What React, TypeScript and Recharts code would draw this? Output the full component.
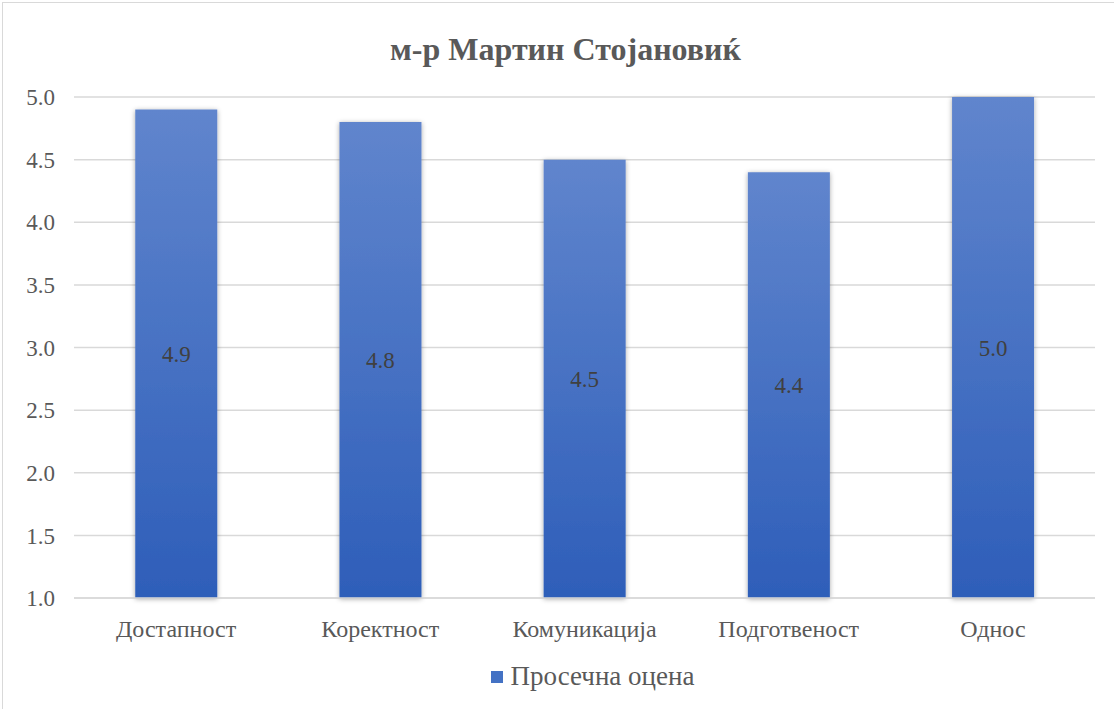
import { Bar, BarChart, CartesianGrid, LabelList, XAxis, YAxis } from "recharts";

const categories = ["Достапност", "Коректност", "Комуникација", "Подготвеност", "Однос"];
const averages = [4.9, 4.8, 4.5, 4.4, 5.0];
const yTicks = [1.0, 1.5, 2.0, 2.5, 3.0, 3.5, 4.0, 4.5, 5.0];

const title = "м-р Мартин Стојановиќ";
const seriesName = "Просечна оцена";

const serif = "Liberation Serif, Tinos, Times New Roman, Times, DejaVu Serif, serif";

const rows = categories.map((name, i) => ({ name, value: averages[i] }));

export default function App() {
  return (
    <div style={{ position: "absolute", left: 2, top: 2, width: 1130, height: 720, border: "1px solid #d9d9d9", background: "#fff" }}>
      <div style={{ position: "absolute", left: 0, width: 1125, top: 28, textAlign: "center", fontFamily: serif, fontWeight: "bold", fontSize: 32, color: "#595959" }}>
        {title}
      </div>
      <BarChart width={1111} height={706} data={rows} margin={{ top: 94, right: 19, left: 0, bottom: 61 }} barCategoryGap="30%">
        <defs>
          <linearGradient id="barFill" x1="0" y1="0" x2="0" y2="1">
            <stop offset="0%" stopColor="#6085cd" />
            <stop offset="100%" stopColor="#2e5eb9" />
          </linearGradient>
          <filter id="barShadow" x="-20%" y="-5%" width="140%" height="110%">
            <feDropShadow dx="0" dy="1" stdDeviation="2.5" floodColor="#000" floodOpacity="0.35" />
          </filter>
        </defs>
        <CartesianGrid vertical={false} stroke="#d9d9d9" strokeWidth={1.5} />
        <XAxis
          dataKey="name"
          axisLine={{ stroke: "#d9d9d9", strokeWidth: 1.5 }}
          tickLine={false}
          tickSize={0}
          tickMargin={22}
          height={50}
          tick={{ fontFamily: serif, fontSize: 24, fill: "#595959" }}
        />
        <YAxis
          domain={[1, 5]}
          ticks={yTicks}
          interval={0}
          axisLine={false}
          tickLine={false}
          tickSize={0}
          tickMargin={19}
          width={71}
          tickFormatter={(v: number) => v.toFixed(1)}
          tick={{ fontFamily: serif, fontSize: 23, fill: "#595959" }}
        />
        <Bar dataKey="value" name={seriesName} fill="url(#barFill)" filter="url(#barShadow)" isAnimationActive={false}>
          <LabelList
            dataKey="value"
            position="center"
            formatter={(v: number) => Number(v).toFixed(1)}
            style={{ fontFamily: serif, fontSize: 23, fill: "#404040" }}
          />
        </Bar>
      </BarChart>
      <div style={{ position: "absolute", left: 0, width: 1179, top: 658, display: "flex", alignItems: "center", justifyContent: "center", fontFamily: serif, fontSize: 27, color: "#595959" }}>
        <span style={{ display: "inline-block", width: 12, height: 12, background: "#4472c4", marginRight: 8 }} />
        {seriesName}
      </div>
    </div>
  );
}
